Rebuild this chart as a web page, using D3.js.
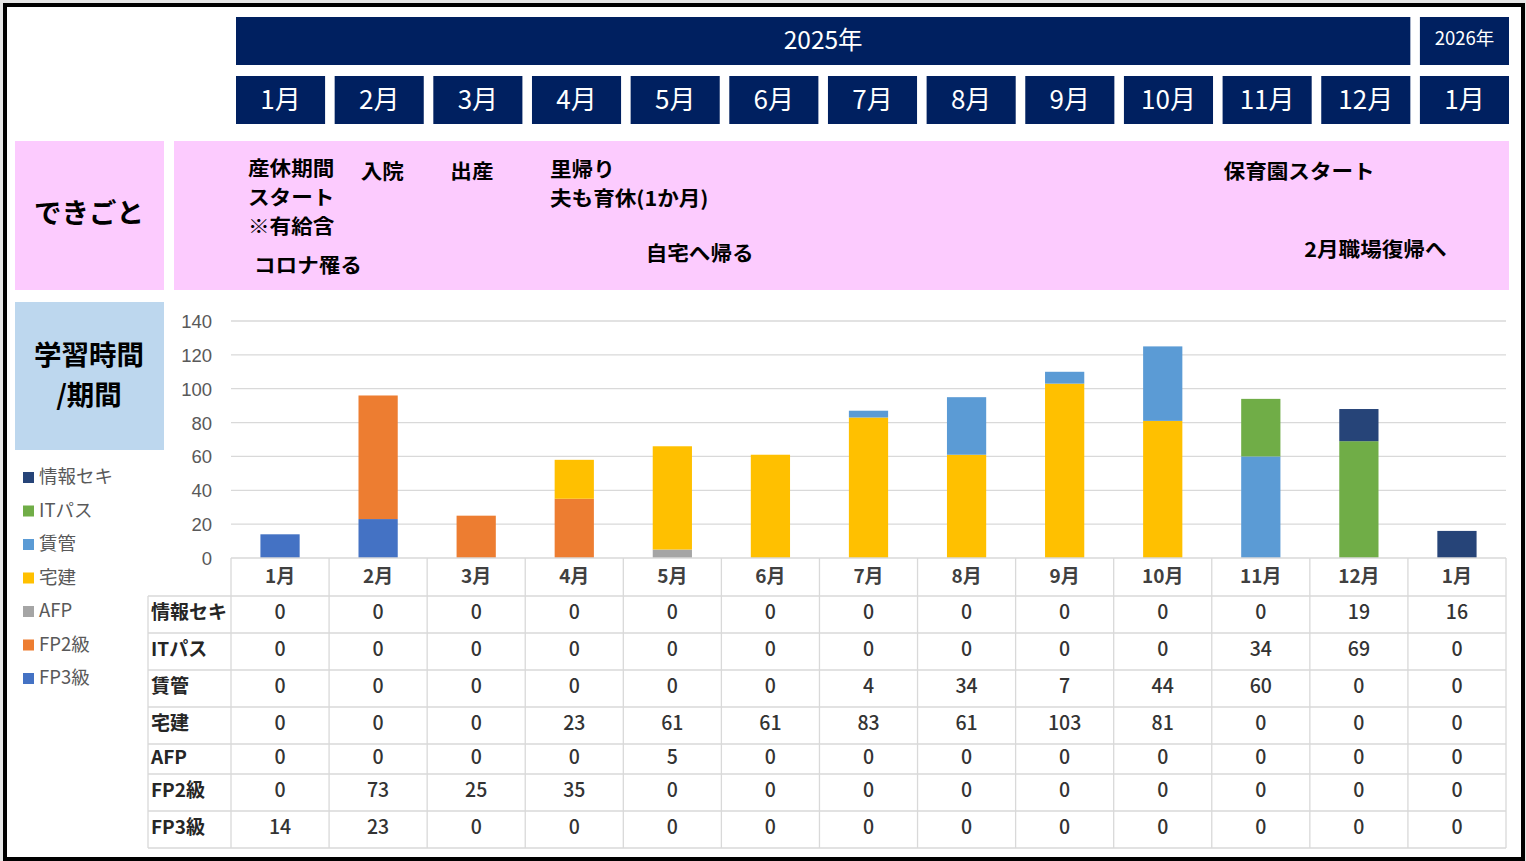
<!DOCTYPE html>
<html lang="ja">
<head>
<meta charset="UTF-8">
<title>学習時間 / 期間</title>
<script src="https://d3js.org/d3.v7.min.js"></script>
<style>
  body { margin: 0; background: #e6e6e6; }
  svg { display: block; font-family: "Noto Sans CJK JP", "Noto Sans", sans-serif; }
  .tick line { display: none; }
  .tick text { fill: #595959; font-size: 18.5px; }
</style>
</head>
<body>
<svg id="chart" width="1526" height="861"></svg>
<script>
// ---- data ----
var months = ["1月","2月","3月","4月","5月","6月","7月","8月","9月","10月","11月","12月","1月"];
var monthYear = [0,0,0,0,0,0,0,0,0,0,0,0,1];
var yearLabels = ["2025年", "2026年"];

var seriesNames = ["情報セキ","ITパス","賃管","宅建","AFP","FP2級","FP3級"];
var infoSec  = [0,0,0,0,0,0,0,0,0,0,0,19,16];
var itPass   = [0,0,0,0,0,0,0,0,0,0,34,69,0];
var chinkan  = [0,0,0,0,0,0,4,34,7,44,60,0,0];
var takken   = [0,0,0,23,61,61,83,61,103,81,0,0,0];
var afp      = [0,0,0,0,5,0,0,0,0,0,0,0,0];
var fp2      = [0,73,25,35,0,0,0,0,0,0,0,0,0];
var fp3      = [14,23,0,0,0,0,0,0,0,0,0,0,0];
var seriesValues = [infoSec, itPass, chinkan, takken, afp, fp2, fp3];
var seriesColors = ["#264478","#70ad47","#5b9bd5","#ffc000","#a5a5a5","#ed7d31","#4472c4"];
var yTicks = [0,20,40,60,80,100,120,140];

// events (month index + lines of text)
var events = [
  {month: 0, lines: ["産休期間", "スタート", "※有給含"]},
  {month: 1, lines: ["入院"]},
  {month: 2, lines: ["出産"]},
  {month: 3, lines: ["里帰り", "夫も育休(1か月)"]},
  {month: 0, lines: ["コロナ罹る"]},
  {month: 4, lines: ["自宅へ帰る"]},
  {month: 10, lines: ["保育園スタート"]},
  {month: 11, lines: ["2月職場復帰へ"]}
];
// layout only: offset from month box left, block centre y
var eventLayout = [[12,198.5],[26,172],[17,172],[18,185],[18,266],[15,254],[1,172],[-17,250]];
var eventLine = 29;

// ---- setup ----
var svg = d3.select("#chart");
var navy = "#002060";

svg.append("rect").attr("x", 5).attr("y", 5).attr("width", 1518).attr("height", 854)
  .attr("fill", "#fff").attr("stroke", "#000").attr("stroke-width", 4);

// header scale (month boxes)
var hx = d3.scaleBand().domain(d3.range(months.length)).range([236, 1509]).paddingInner(0.097);

// year bars
yearLabels.forEach(function(lbl, yi) {
  var idx = d3.range(months.length).filter(function(i) { return monthYear[i] === yi; });
  var x0 = hx(idx[0]), x1 = hx(idx[idx.length - 1]) + hx.bandwidth();
  svg.append("rect").attr("x", x0).attr("y", 17).attr("width", x1 - x0).attr("height", 48).attr("fill", navy);
  svg.append("text").attr("x", (x0 + x1) / 2).attr("y", yi === 0 ? 40 : 39).attr("dy", "0.35em")
    .attr("text-anchor", "middle")
    .attr("fill", "#fff").style("font-size", yi === 0 ? "24.5px" : "18.5px").text(lbl);
});

// month boxes
svg.selectAll(".mbox").data(months).enter().append("rect")
  .attr("x", function(d, i) { return hx(i); }).attr("y", 76)
  .attr("width", hx.bandwidth()).attr("height", 48).attr("fill", navy);
svg.selectAll(".mlabel").data(months).enter().append("text")
  .attr("x", function(d, i) { return hx(i) + hx.bandwidth() / 2; }).attr("y", 100).attr("dy", "0.35em")
  .attr("text-anchor", "middle")
  .attr("fill", "#fff").style("font-size", "26px").text(function(d) { return d; });

// events band
svg.append("rect").attr("x", 15).attr("y", 141).attr("width", 149).attr("height", 149).attr("fill", "#fccbfe");
svg.append("rect").attr("x", 174).attr("y", 141).attr("width", 1335).attr("height", 149).attr("fill", "#fccbfe");
svg.append("text").attr("x", 89).attr("y", 213).attr("dy", "0.35em").attr("text-anchor", "middle")
  .style("font-size", "27.5px").style("font-weight", "bold").text("できごと");

events.forEach(function(ev, i) {
  var x0 = hx(ev.month) + eventLayout[i][0];
  var top = eventLayout[i][1] - (ev.lines.length - 1) * eventLine / 2;
  var t = svg.append("text").attr("transform", "translate(" + x0 + ",0) scale(1.08,1)")
    .style("font-size", "20px").style("font-weight", "bold").attr("fill", "#000");
  ev.lines.forEach(function(line, li) {
    t.append("tspan").attr("x", 0).attr("y", top + li * eventLine).attr("dy", "0.35em").text(line);
  });
});

// study-time title box
svg.append("rect").attr("x", 15).attr("y", 302).attr("width", 149).attr("height", 148).attr("fill", "#bdd7ee");
var title = svg.append("text").attr("text-anchor", "middle")
  .style("font-size", "27.5px").style("font-weight", "bold");
title.append("tspan").attr("x", 89).attr("y", 355).attr("dy", "0.35em").text("学習時間");
title.append("tspan").attr("x", 89).attr("y", 395).attr("dy", "0.35em").text("/期間");

// ---- chart ----
var x = d3.scaleBand().domain(d3.range(months.length)).range([231, 1506]).paddingInner(0.6).paddingOuter(0.3);
var col = d3.scaleBand().domain(d3.range(months.length)).range([231, 1506]);
var y = d3.scaleLinear().domain([0, 140]).range([558, 321]);

svg.append("g").selectAll("line").data(yTicks.slice(1)).enter().append("line")
  .attr("x1", 231).attr("x2", 1506)
  .attr("y1", function(d) { return y(d); }).attr("y2", function(d) { return y(d); })
  .attr("stroke", "#d9d9d9").attr("stroke-width", 1.3);

var yAxis = svg.append("g").attr("transform", "translate(231,0)")
  .call(d3.axisLeft(y).tickValues(yTicks).tickSize(0).tickPadding(19));
yAxis.select(".domain").remove();
yAxis.selectAll("text").attr("dy", "0.35em");

var tableRows = months.map(function(m, i) {
  var r = {i: i};
  seriesNames.forEach(function(s, k) { r[s] = seriesValues[k][i]; });
  return r;
});
var stackKeys = seriesNames.slice().reverse();
var stacked = d3.stack().keys(stackKeys)(tableRows);
var colorOf = d3.scaleOrdinal().domain(seriesNames).range(seriesColors);

svg.append("g").selectAll("g").data(stacked).enter().append("g")
  .attr("fill", function(d) { return colorOf(d.key); })
  .selectAll("rect").data(function(d) { return d; }).enter().append("rect")
  .attr("x", function(d) { return x(d.data.i); })
  .attr("width", x.bandwidth())
  .attr("y", function(d) { return y(d[1]); })
  .attr("height", function(d) { return y(d[0]) - y(d[1]); });

// legend
var legend = svg.append("g").selectAll("g").data(seriesNames).enter().append("g")
  .attr("transform", function(d, i) { return "translate(23," + (477 + i * 33.5) + ")"; });
legend.append("rect").attr("x", 0).attr("y", -5).attr("width", 11).attr("height", 11)
  .attr("fill", function(d) { return colorOf(d); });
legend.append("text").attr("x", 16).attr("y", 0).attr("dy", "0.35em")
  .attr("fill", "#595959").style("font-size", "18.5px").text(function(d) { return d; });

// ---- data table ----
var rowH = [37, 37, 37, 37, 30, 37, 37];
var rowTop = [596];
rowH.forEach(function(h, k) { rowTop.push(rowTop[k] + h); });
var grid = svg.append("g").attr("stroke", "#d9d9d9").attr("stroke-width", 1.3);
grid.append("line").attr("x1", 231).attr("x2", 1506).attr("y1", 558).attr("y2", 558);
rowTop.forEach(function(yy) {
  grid.append("line").attr("x1", 148).attr("x2", 1506).attr("y1", yy).attr("y2", yy);
});
grid.append("line").attr("x1", 148).attr("x2", 148).attr("y1", 596).attr("y2", rowTop[rowTop.length - 1]);
d3.range(months.length + 1).forEach(function(i) {
  var xx = i < months.length ? col(i) : col(months.length - 1) + col.bandwidth();
  grid.append("line").attr("x1", xx).attr("x2", xx).attr("y1", 558).attr("y2", rowTop[rowTop.length - 1]);
});

svg.append("g").selectAll("text").data(months).enter().append("text")
  .attr("x", function(d, i) { return col(i) + col.bandwidth() / 2; }).attr("y", 576).attr("dy", "0.35em")
  .attr("text-anchor", "middle")
  .attr("fill", "#404040").style("font-size", "19px").style("font-weight", "bold")
  .text(function(d) { return d; });

seriesNames.forEach(function(s, k) {
  var cy = rowTop[k] + rowH[k] / 2 - 2;
  svg.append("text").attr("x", 151).attr("y", cy).attr("dy", "0.35em")
    .attr("fill", "#262626").style("font-size", "19px").style("font-weight", "bold").text(s);
  svg.append("g").selectAll("text").data(seriesValues[k]).enter().append("text")
    .attr("x", function(d, i) { return col(i) + col.bandwidth() / 2; }).attr("y", cy).attr("dy", "0.35em")
    .attr("text-anchor", "middle")
    .attr("fill", "#333").style("font-size", "19.5px").style("font-weight", "500")
    .text(function(d) { return d; });
});
</script>
</body>
</html>
